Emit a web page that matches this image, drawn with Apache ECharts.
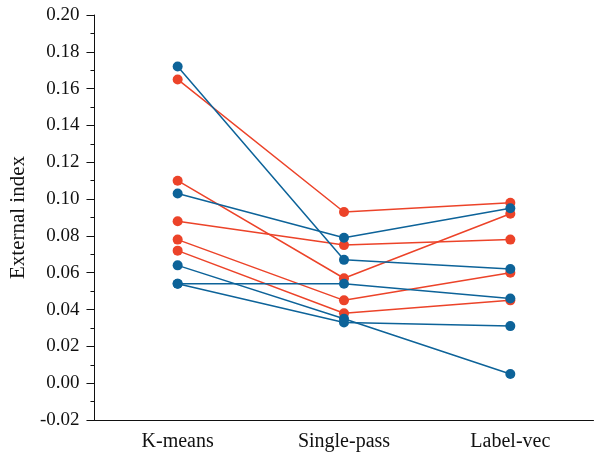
<!DOCTYPE html>
<html>
<head>
<meta charset="utf-8">
<script src="https://cdn.jsdelivr.net/npm/echarts@6/dist/echarts.min.js"></script>
<style>html,body{margin:0;padding:0;background:#fff;}#c{width:598px;height:458px;}</style>
</head>
<body>
<div id="c"></div>
<script>
var categories = ['K-means', 'Single-pass', 'Label-vec'];
var yTicks = { min: -0.02, max: 0.20, step: 0.02 };
var redLines = [
  [0.165, 0.093, 0.098],
  [0.110, 0.057, 0.092],
  [0.088, 0.075, 0.078],
  [0.078, 0.045, 0.060],
  [0.072, 0.038, 0.045]
];
var blueLines = [
  [0.172, 0.067, 0.062],
  [0.103, 0.079, 0.095],
  [0.064, 0.035, 0.005],
  [0.054, 0.054, 0.046],
  [0.054, 0.033, 0.031]
];
var RED = '#EC4329', BLUE = '#0D6399';
var FONT = '"Liberation Serif", serif';

function mk(data, color) {
  return {
    type: 'line', data: data, symbol: 'circle', symbolSize: 10,
    lineStyle: { color: color, width: 1.5 },
    itemStyle: { color: color },
    emphasis: { disabled: true }, animation: false
  };
}
var series = [];
redLines.forEach(function (d) { series.push(mk(d, RED)); });
blueLines.forEach(function (d) { series.push(mk(d, BLUE)); });

var chart = echarts.init(document.getElementById('c'));
chart.setOption({
  animation: false,
  grid: { left: 91, top: 15, right: 4.5, bottom: 38, containLabel: false },
  xAxis: {
    type: 'category', data: categories, boundaryGap: true,
    axisLine: { onZero: false, lineStyle: { color: '#111', width: 1 } },
    axisTick: { alignWithLabel: true, length: 8, lineStyle: { color: '#111' } },
    axisLabel: { color: '#111', fontFamily: FONT, fontSize: 20, margin: 12 },
    splitLine: { show: false }
  },
  yAxis: {
    type: 'value', min: yTicks.min, max: yTicks.max, interval: yTicks.step,
    name: 'External index', nameLocation: 'middle', nameGap: 59,
    nameTextStyle: { color: '#111', fontFamily: FONT, fontSize: 21 },
    axisLine: { show: true, lineStyle: { color: '#111', width: 1 } },
    axisTick: { show: true, length: 8, lineStyle: { color: '#111' } },
    minorTick: { show: true, splitNumber: 2, length: 4, lineStyle: { color: '#111' } },
    axisLabel: { color: '#111', fontFamily: FONT, fontSize: 19, margin: 15,
      formatter: function (v) { return v.toFixed(2); } },
    splitLine: { show: false }
  },
  series: series
});
</script>
</body>
</html>
